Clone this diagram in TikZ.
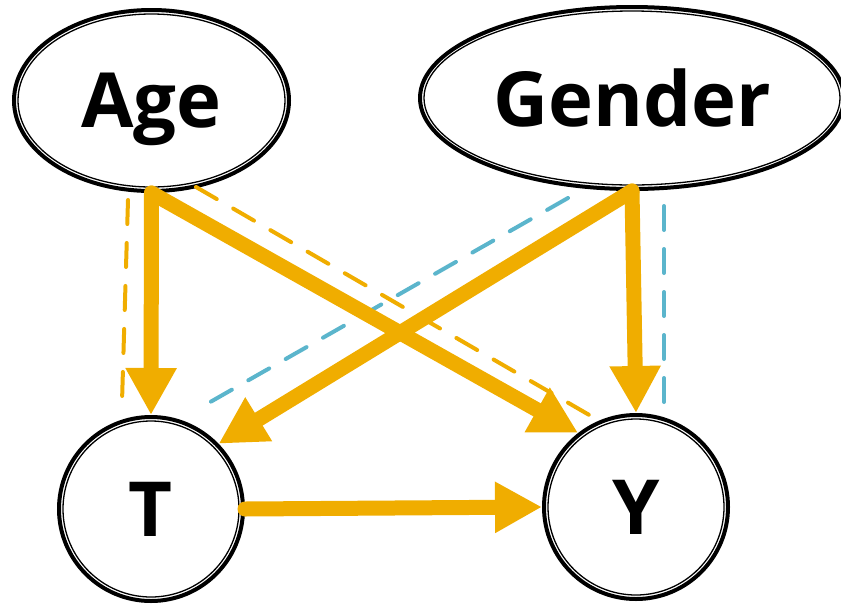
\documentclass[tikz,border=0pt]{standalone}
\usepackage{fontspec}
\setmainfont{Open Sans}
\usetikzlibrary{arrows.meta,shapes.geometric}
\definecolor{gold}{HTML}{F0AD00}
\definecolor{skyb}{HTML}{5BB5CC}
\begin{document}
\begin{tikzpicture}[x=1pt,y=-1pt,
  var/.style={draw=black, line width=4pt, fill=white, inner sep=0pt, text depth=0pt,
    font=\fontsize{76}{80}\selectfont\bfseries},
  ellvar/.style={var, ellipse},
  cirvar/.style={var, circle, minimum size=184pt},
  innerline/.style={draw=black, line width=1.3pt},
  causal/.style={draw=gold, line width=15pt, line cap=round, -{Triangle[length=47pt,width=48pt]}},
  gdash/.style={draw=gold, line width=4pt, line cap=round, dash pattern=on 24pt off 19pt},
  bdash/.style={draw=skyb, line width=4pt, line cap=round, dash pattern=on 24pt off 19pt}]
\useasboundingbox (0,0) rectangle (841,606);
% nodes
\node[ellvar, minimum width=275pt, minimum height=181pt] (age) at (151.5,100.5) {Age};
\node[ellvar, minimum width=424pt, minimum height=182pt] (gender) at (632,98) {Gender};
\node[cirvar] (T) at (151,509) {T};
\node[cirvar] (Y) at (636,507) {Y};
% inner thin borders
\draw[innerline] (age.center) ellipse [x radius=133.5pt, y radius=86.5pt];
\draw[innerline] (gender.center) ellipse [x radius=208pt, y radius=87pt];
\draw[innerline] (T.center) circle [radius=88pt];
\draw[innerline] (Y.center) circle [radius=88pt];
% dashed end points
\coordinate (a1) at (128,200); \coordinate (a2) at (122,402);
\coordinate (a3) at (196,187); \coordinate (a4) at (591,416);
\coordinate (b1) at (568,198); \coordinate (b2) at (198,409);
\coordinate (b3) at (664,206); \coordinate (b4) at (664,409);
% dashed lines
\draw[gdash] (a1) -- (a2);
\draw[gdash] (a3) -- (a4);
\draw[bdash] (b1) -- (b2);
\draw[bdash] (b3) -- (b4);
% causal arrows
\draw[causal] (age.south) -- (T.north);
\draw[causal] (age.south) -- (Y.128);
\draw[causal] (gender.south) -- (T.44);
\draw[causal] (gender.south) -- (Y.north);
\draw[causal] (T.east) -- (Y.west);
\end{tikzpicture}
\end{document}
